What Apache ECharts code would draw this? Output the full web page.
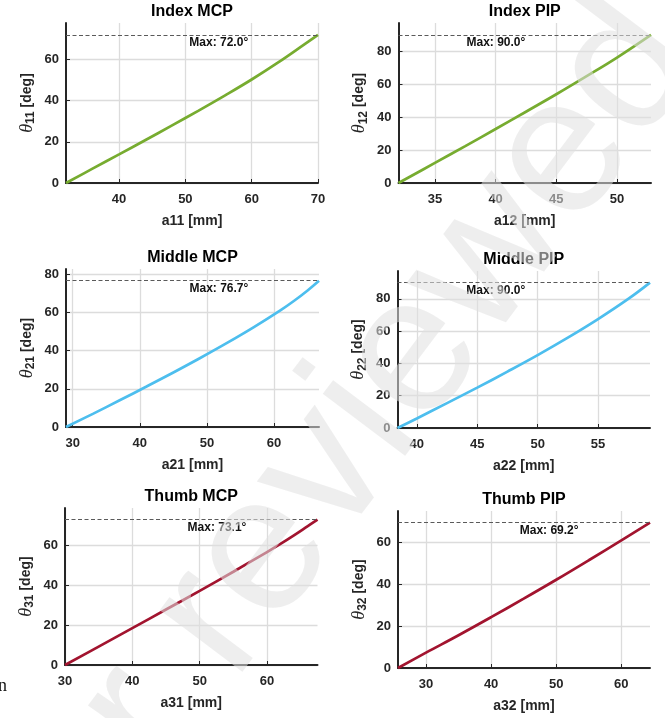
<!DOCTYPE html>
<html><head><meta charset="utf-8">
<script src="https://cdn.jsdelivr.net/npm/echarts@6/dist/echarts.min.js"></script>
<style>html,body{margin:0;padding:0;background:#fff}#c{width:665px;height:718px}</style>
</head><body><div id="c"></div>
<script>
// ---- data ----
const titles = ['Index MCP', 'Index PIP', 'Middle MCP', 'Middle PIP', 'Thumb MCP', 'Thumb PIP'];
const xNames = ['a11 [mm]', 'a12 [mm]', 'a21 [mm]', 'a22 [mm]', 'a31 [mm]', 'a32 [mm]'];
const ySubs = ['11', '12', '21', '22', '31', '32'];

const x11 = [32, 36, 40, 44, 48, 52, 56, 60, 64, 68, 70];
const y11 = [0, 6.96, 13.9, 20.9, 28.0, 35.2, 42.6, 50.3, 58.6, 67.5, 72.0];

const x12 = [32, 35, 37.5, 40, 42.5, 45, 47.5, 50, 52.8];
const y12 = [0, 12.2, 22.4, 32.8, 43.3, 53.9, 64.9, 76.2, 90.0];

const x21 = [29, 33, 37, 41, 45, 49, 53, 57, 61, 63, 65, 66.7];
const y21 = [0, 6.9, 14.0, 21.2, 28.6, 36.2, 44.1, 52.4, 61.3, 66.2, 71.6, 76.7];

const x22 = [38.4, 40, 42.5, 45, 47.5, 50, 52.5, 55, 57.5, 59.3];
const y22 = [0, 5.9, 15.4, 25.0, 34.9, 45.1, 55.9, 67.4, 79.9, 90.0];

const x31 = [30, 35, 40, 45, 50, 55, 60, 62, 64, 66, 67.5];
const y31 = [0, 9.25, 18.55, 27.9, 37.3, 46.9, 56.8, 60.9, 65.2, 69.7, 73.1];

const x32 = [25.7, 30, 35, 40, 45, 50, 55, 60, 64.4];
const y32 = [0, 7.3, 15.6, 24.2, 33.0, 42.0, 51.3, 60.8, 69.2];

const maxVals = [72.0, 90.0, 76.7, 90.0, 73.1, 69.2];
const maxLabelX = [50.6, 37.6, 47.4, 44.1, 48.2, 44.4];

const xTicks = [[40, 50, 60, 70], [35, 40, 45, 50], [30, 40, 50, 60], [40, 45, 50, 55], [30, 40, 50, 60], [30, 40, 50, 60]];
const yTicks = [[0, 20, 40, 60], [0, 20, 40, 60, 80], [0, 20, 40, 60, 80], [0, 20, 40, 60, 80], [0, 20, 40, 60], [0, 20, 40, 60]];

const xs = [x11, x12, x21, x22, x31, x32];
const ys = [y11, y12, y21, y22, y31, y32];
const colors = ['#77AC30', '#77AC30', '#4DBEEE', '#4DBEEE', '#A2142F', '#A2142F'];

const watermarkText = 'peer reviewed';

// ---- layout ----
const grids = [
  {left: 66, top: 23, width: 252, height: 160},
  {left: 398.5, top: 23, width: 252.5, height: 160},
  {left: 66, top: 269, width: 253, height: 158},
  {left: 397.5, top: 271, width: 252.5, height: 157},
  {left: 65, top: 508, width: 252.5, height: 157},
  {left: 398, top: 511, width: 252, height: 157}
];

const SANS = '"Liberation Sans", Arial, Helvetica, sans-serif';
const AX = '#262626';

const option = {
  animation: false,
  backgroundColor: '#fff',
  grid: grids.map(g => Object.assign({containLabel: false}, g)),
  xAxis: [], yAxis: [], series: [], graphic: []
};

for (let i = 0; i < 6; i++) {
  const x = xs[i], y = ys[i];
  option.xAxis.push({
    gridIndex: i, type: 'value', min: x[0], max: x[x.length - 1], position: 'bottom',
    axisLine: {onZero: false, lineStyle: {color: AX, width: 2}},
    axisTick: {show: true, inside: true, length: 4, customValues: xTicks[i], lineStyle: {color: AX, width: 1}},
    axisLabel: {customValues: xTicks[i], margin: 10, color: AX, fontSize: 13, fontWeight: 'bold', fontFamily: SANS},
    splitLine: {show: true, lineStyle: {color: '#dcdcdc', width: 1.3}},
    name: xNames[i], nameLocation: 'middle', nameGap: 31,
    nameTextStyle: {fontSize: 14, fontWeight: 'bold', color: AX, fontFamily: SANS}
  });
  const ymax = maxVals[i] * 1.08;
  option.yAxis.push({
    gridIndex: i, type: 'value', min: 0, max: ymax,
    axisLine: {show: true, onZero: false, lineStyle: {color: AX, width: 2}},
    axisTick: {show: true, inside: true, length: 4, customValues: yTicks[i], lineStyle: {color: AX, width: 1}},
    axisLabel: {customValues: yTicks[i], margin: 7, color: AX, fontSize: 13, fontWeight: 'bold', fontFamily: SANS},
    splitLine: {show: true, lineStyle: {color: '#dcdcdc', width: 1.3}},
    name: '{t|θ}{s|' + ySubs[i] + '}{d| [deg]}', nameLocation: 'middle', nameGap: 29, nameRotate: 90,
    nameTextStyle: {
      color: AX,
      rich: {
        t: {fontFamily: '"Liberation Serif", "Times New Roman", serif', fontStyle: 'italic', fontSize: 18, color: AX, lineHeight: 20, verticalAlign: 'middle'},
        s: {fontFamily: SANS, fontWeight: 'bold', fontSize: 12, color: AX, lineHeight: 12, padding: [12, 0, 0, 0], verticalAlign: 'bottom'},
        d: {fontFamily: SANS, fontWeight: 'bold', fontSize: 14, color: AX, lineHeight: 20, verticalAlign: 'middle'}
      }
    }
  });
  option.series.push({
    type: 'line', xAxisIndex: i, yAxisIndex: i,
    data: x.map((v, k) => [v, y[k]]),
    smooth: 0.4, showSymbol: false, symbol: 'none',
    lineStyle: {color: colors[i], width: 2.7},
    z: 3,
    markLine: {
      silent: true, symbol: 'none', animation: false,
      data: [{yAxis: maxVals[i]}],
      lineStyle: {type: [4, 2.5], color: '#5a5a5a', width: 1},
      label: {show: false}
    },
    markPoint: {
      silent: true, symbol: 'circle', symbolSize: 0, animation: false,
      itemStyle: {color: 'rgba(0,0,0,0)'},
      data: [{coord: [maxLabelX[i], maxVals[i]]}],
      label: {
        show: true, position: [0, 2], align: 'left', verticalAlign: 'top',
        formatter: 'Max: ' + maxVals[i].toFixed(1) + '°',
        fontSize: 12, fontWeight: 'bold', color: '#111', fontFamily: SANS
      }
    }
  });
  const g = grids[i];
  option.graphic.push({
    type: 'text', x: g.left + g.width / 2, y: g.top - 11,
    style: {text: titles[i], fill: '#000', font: 'bold 16px ' + SANS, align: 'center', verticalAlign: 'middle', textAlign: 'center', textVerticalAlign: 'middle'}
  });
}
option.graphic.push({
  type: 'text', x: -2, y: 686,
  style: {text: 'n', fill: '#111', font: '18px "Liberation Serif", serif', align: 'left', verticalAlign: 'middle'}
});
// faint diagonal watermark, drawn above the plots
option.graphic.push({
  type: 'text', x: 661, y: 27, rotation: 53 * Math.PI / 180, z: 100, silent: true,
  style: {text: watermarkText, fill: 'rgba(224,224,224,0.55)', font: '195px ' + SANS, align: 'right', verticalAlign: 'middle', textAlign: 'right', textVerticalAlign: 'middle'}
});

const chart = echarts.init(document.getElementById('c'), null, {renderer: 'canvas'});
chart.setOption(option);
</script>
</body></html>
